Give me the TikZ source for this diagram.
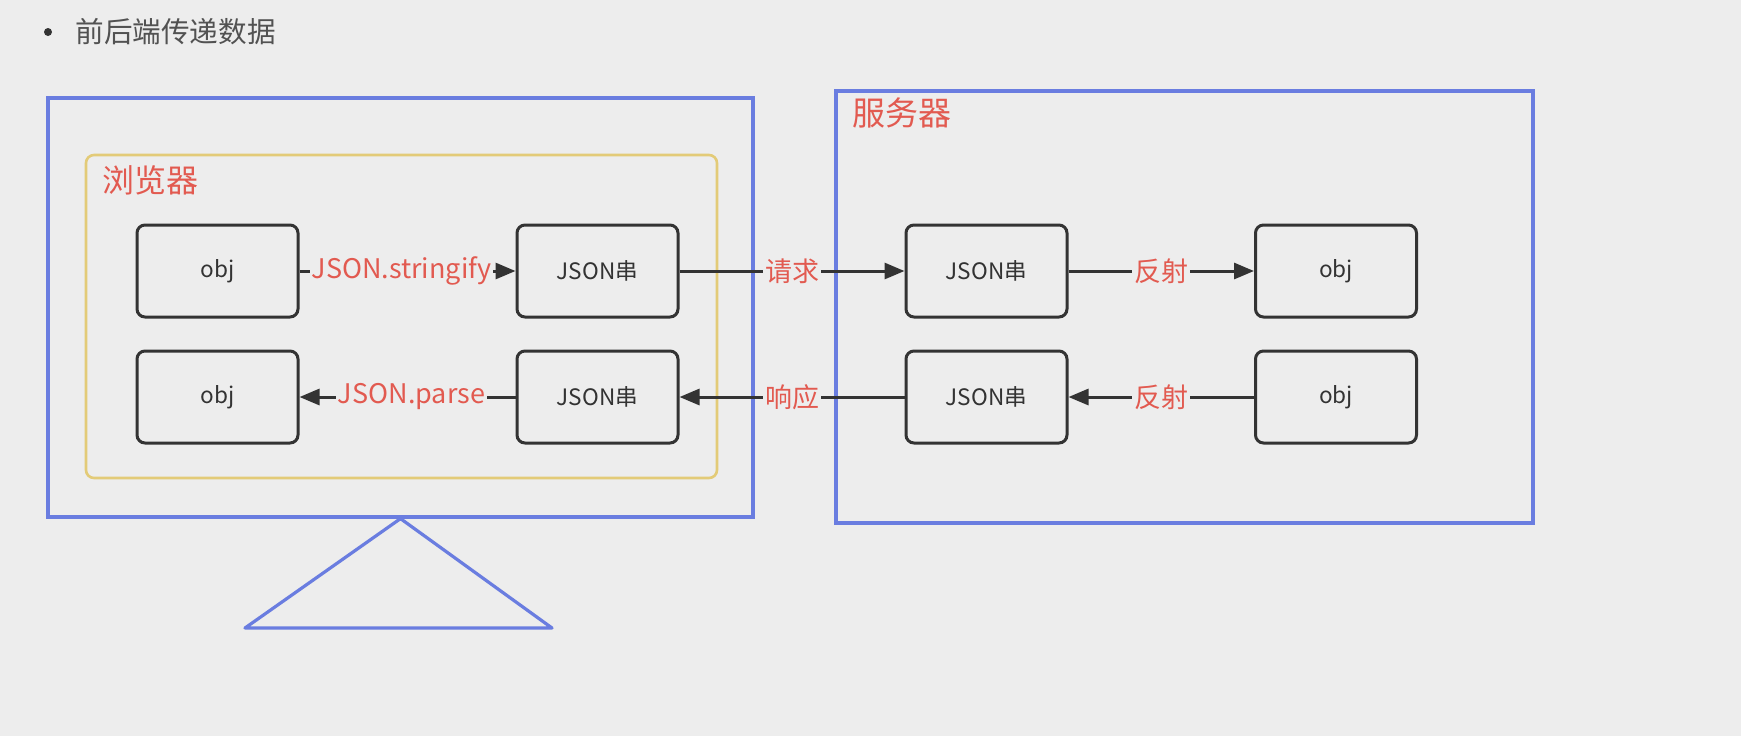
\documentclass[tikz,border=0pt]{standalone}
\usepackage{fontspec}
\setmainfont{Noto Sans CJK SC}
\usetikzlibrary{arrows.meta}
\definecolor{bg}{HTML}{EDEDED}
\definecolor{bluebox}{HTML}{6A7DE0}
\definecolor{yelbox}{HTML}{E3CB78}
\definecolor{redtxt}{HTML}{E25A50}
\definecolor{ink}{HTML}{333333}
\begin{document}
\begin{tikzpicture}[x=0.5pt,y=-0.5pt,
  blk/.style={draw=ink, line width=1.5pt, rounded corners=4pt, minimum width=80.5pt, minimum height=46pt, font=\fontsize{11.3}{13}\selectfont, text=ink},
  lbl/.style={fill=bg, text=redtxt, inner sep=1pt, font=\fontsize{13.5}{16}\selectfont},
  arr/.style={draw=ink, line width=1.5pt, -{Triangle[length=10pt,width=8pt]}},
  cont/.style={draw=bluebox, line width=1.6pt, inner sep=0pt},
]
\fill[bg] (0,0) rectangle (1741,736);
\useasboundingbox (0,0) rectangle (1741,736);
% title
\fill[ink] (48,32) circle (4);
\node[anchor=west, text=ink!85, font=\fontsize{14.3}{17}\selectfont, inner sep=0pt] (title) at (75,32) {前后端传递数据};
% containers
\node[cont, minimum width=352.5pt, minimum height=209.5pt] (pc) at (400.5,307.5) {};
\node[draw=yelbox, line width=1.3pt, rounded corners=4pt, minimum width=315.5pt, minimum height=161.5pt, inner sep=0pt] (browser) at (401.5,316.5) {};
\node[anchor=west, text=redtxt, font=\fontsize{16}{19}\selectfont, inner sep=0pt] (browserlbl) at (102,180) {浏览器};
\node[cont, minimum width=348.5pt, minimum height=216pt] (server) at (1184.5,307) {};
\node[anchor=west, text=redtxt, font=\fontsize{16.5}{19}\selectfont, inner sep=0pt] (serverlbl) at (852,113) {服务器};
\draw[draw=bluebox, line width=1.6pt, line join=round] (pc.south) -- (552,628) -- (245,628) -- cycle;
% blocks
\node[blk] (o1) at (217.5,271) {obj};
\node[blk] (j1) at (597.5,271) {JSON串};
\node[blk] (j3) at (986.5,271) {JSON串};
\node[blk] (o3) at (1336,271) {obj};
\node[blk] (o2) at (217.5,397) {obj};
\node[blk] (j2) at (597.5,397) {JSON串};
\node[blk] (j4) at (986.5,397) {JSON串};
\node[blk] (o4) at (1336,397) {obj};
% connectors
\draw[arr] (o1) -- node[lbl, xshift=-3pt] {JSON.stringify} (j1);
\draw[arr] (j1) -- node[lbl] {请求} (j3);
\draw[arr] (j3) -- node[lbl] {反射} (o3);
\draw[arr] (j2) -- node[lbl, xshift=2pt] {JSON.parse} (o2);
\draw[arr] (j4) -- node[lbl] {响应} (j2);
\draw[arr] (o4) -- node[lbl] {反射} (j4);
\end{tikzpicture}
\end{document}
